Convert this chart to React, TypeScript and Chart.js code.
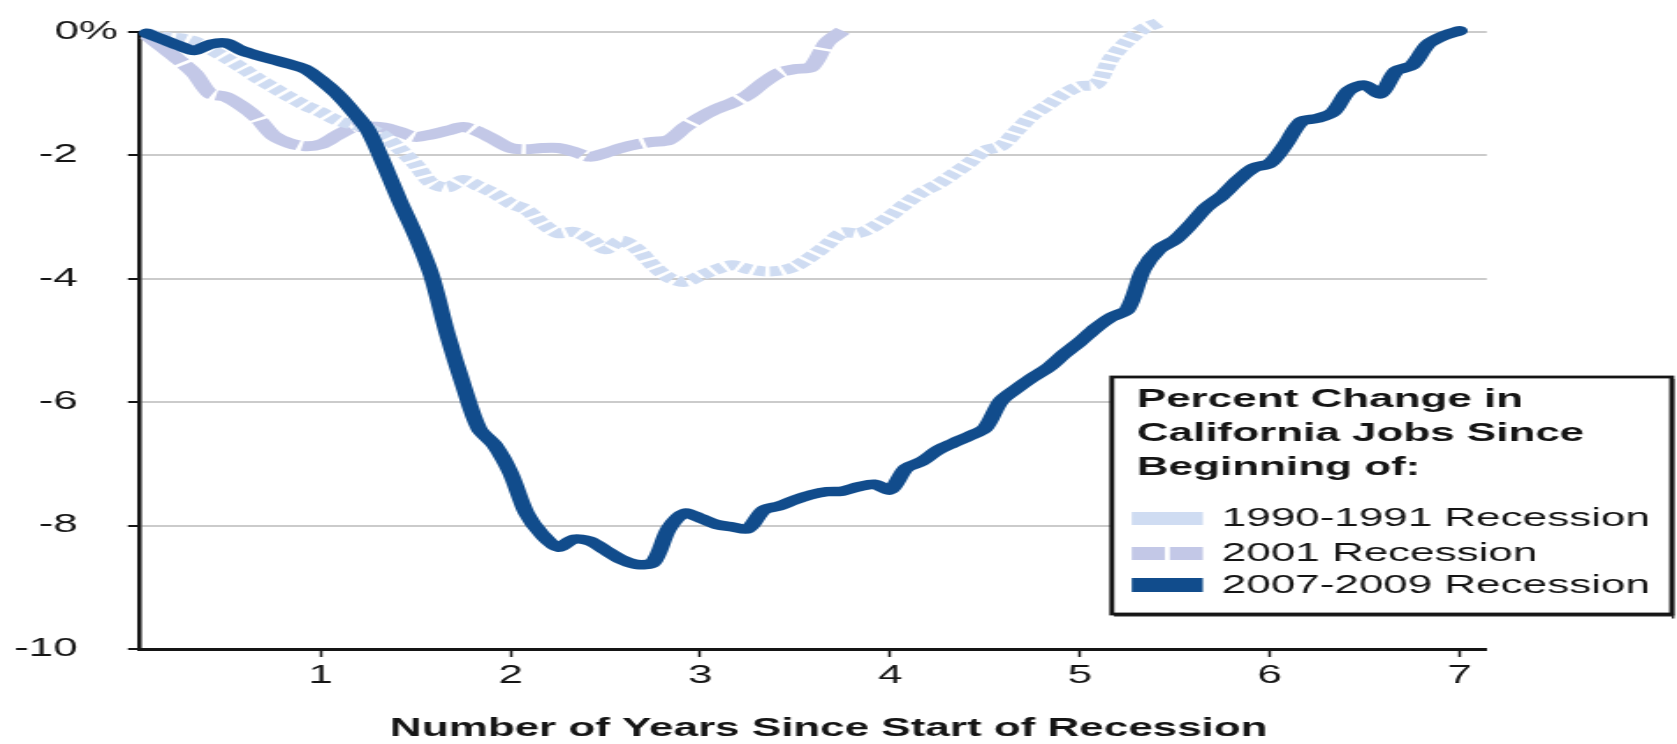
import React, { useEffect, useRef } from "react";
import { Chart, registerables } from "chart.js";

Chart.register(...registerables);

// The reference is a horizontally stretched picture: we draw at a narrower
// internal width and let CSS stretch the canvas to the page width.
const STRETCH = 1.76;
const PAGE_W = 1677;
const PAGE_H = 744;
const CANVAS_W = Math.round(PAGE_W / STRETCH);

const FONT = '"Liberation Sans", Arial, Helvetica, sans-serif';
const INK = "#151515";

const xTickValues = [1, 2, 3, 4, 5, 6, 7];
const yTickValues = [-10, -8, -6, -4, -2, 0];
const xTitle = "Number of Years Since Start of Recession";
const legendTitle = ["Percent Change in", "California Jobs Since", "Beginning of:"];
const seriesNames = ["1990-1991 Recession", "2001 Recession", "2007-2009 Recession"];
const seriesColors = ["#cfdcf2", "#c3c8e7", "#114c8c"];

// Percent change in California jobs, month 1, 2, 3 ... after start of recession
const jobs1990 = [
  -0.02, -0.08, -0.1, -0.15, -0.28, -0.42, -0.58, -0.75, -0.9, -1.05, -1.19, -1.3,
  -1.43, -1.5, -1.56, -1.69, -1.9, -2.15, -2.45, -2.52, -2.4, -2.5, -2.62, -2.78,
  -2.88, -3.1, -3.26, -3.24, -3.35, -3.52, -3.38, -3.52, -3.78, -3.98, -4.05, -3.95,
  -3.85, -3.78, -3.84, -3.88, -3.87, -3.8, -3.64, -3.45, -3.25, -3.26, -3.15, -2.98,
  -2.78, -2.6, -2.47, -2.3, -2.12, -1.92, -1.85, -1.6, -1.35, -1.18, -1.0, -0.88,
  -0.85, -0.42, -0.15, 0.05, 0.15,
];

const jobs2001 = [
  -0.05, -0.25, -0.45, -0.67, -1.0, -1.05, -1.2, -1.4, -1.68, -1.8, -1.85, -1.82,
  -1.68, -1.55, -1.53, -1.55, -1.62, -1.7, -1.66, -1.6, -1.54, -1.62, -1.75, -1.88,
  -1.9, -1.88, -1.88, -1.94, -2.02, -1.96, -1.88, -1.82, -1.78, -1.75, -1.55, -1.38,
  -1.25, -1.15, -1.02, -0.82, -0.66, -0.6, -0.57, -0.17, 0.02,
];

const jobs2007 = [
  -0.02, -0.12, -0.22, -0.3, -0.2, -0.18, -0.3, -0.38, -0.45, -0.52, -0.6, -0.78,
  -1.0, -1.28, -1.6, -2.15, -2.75, -3.3, -3.95, -4.9, -5.72, -6.43, -6.7, -7.15,
  -7.8, -8.15, -8.35, -8.22, -8.25, -8.4, -8.55, -8.63, -8.6, -8.05, -7.8, -7.88,
  -7.98, -8.02, -8.05, -7.75, -7.68, -7.58, -7.5, -7.45, -7.44, -7.37, -7.33, -7.42,
  -7.07, -6.96, -6.78, -6.66, -6.55, -6.42, -5.98, -5.78, -5.6, -5.44, -5.22, -5.02,
  -4.8, -4.62, -4.5, -3.85, -3.52, -3.37, -3.12, -2.84, -2.65, -2.4, -2.2, -2.13,
  -1.82, -1.45, -1.4, -1.3, -0.95, -0.86, -1.0, -0.63, -0.54, -0.2, -0.06, 0.02,
];

const toPoints = (vals: number[]) => vals.map((v, i) => ({ x: (i + 1) / 12, y: v }));

// page-pixel -> internal canvas x
const sx = (v: number) => v / STRETCH;

const legendPlugin = {
  id: "boxLegend",
  afterDraw(chart: any) {
    const ctx = chart.ctx as CanvasRenderingContext2D;
    ctx.save();
    const L = sx(1112), R = sx(1672), T = 377, B = 614;
    ctx.fillStyle = "#ffffff";
    ctx.fillRect(L, T, R - L, B - T);
    // slight drop shadow on right / bottom edges
    ctx.fillStyle = "#2a2a2a";
    ctx.fillRect(L + sx(2), B, R - L, 2.5);
    ctx.fillRect(R, T + 2, sx(2.5), B - T + 2.5);
    ctx.lineWidth = 2.8;
    ctx.strokeStyle = INK;
    ctx.strokeRect(L, T, R - L, B - T);

    ctx.fillStyle = INK;
    ctx.textAlign = "left";
    ctx.textBaseline = "alphabetic";
    ctx.font = `bold 25px ${FONT}`;
    legendTitle.forEach((t, i) => ctx.fillText(t, sx(1137), 407 + i * 34));

    // swatches
    const swL = sx(1132), swW = sx(71);
    ctx.fillStyle = seriesColors[0];
    ctx.fillRect(swL, 512, swW, 13);
    ctx.fillStyle = seriesColors[1];
    ctx.fillRect(swL, 547, sx(33), 13);
    ctx.fillRect(sx(1170), 547, sx(33), 13);
    ctx.fillStyle = seriesColors[2];
    ctx.fillRect(swL, 578, swW, 14);

    ctx.fillStyle = INK;
    ctx.font = `25px ${FONT}`;
    const baselines = [526, 561, 593];
    seriesNames.forEach((n, i) => ctx.fillText(n, sx(1222), baselines[i]));
    ctx.restore();
  },
};

export default function App() {
  const ref = useRef<HTMLCanvasElement | null>(null);

  useEffect(() => {
    if (!ref.current) return;
    const chart = new Chart(ref.current, {
      type: "line",
      data: {
        datasets: [
          {
            label: seriesNames[2],
            data: toPoints(jobs2007),
            borderColor: seriesColors[2],
            borderWidth: 9.5,
            borderJoinStyle: "round",
            borderCapStyle: "round",
            pointRadius: 0,
            tension: 0.3,
            clip: false,
            order: 0,
          },
          {
            label: seriesNames[1],
            data: toPoints(jobs2001),
            borderColor: seriesColors[1],
            borderWidth: 10,
            borderDash: [34, 2.5],
            borderJoinStyle: "round",
            borderCapStyle: "butt",
            pointRadius: 0,
            tension: 0.3,
            clip: false,
            order: 2,
          },
          {
            label: seriesNames[0],
            data: toPoints(jobs1990),
            borderColor: seriesColors[0],
            borderWidth: 10,
            borderDash: [6, 2.5],
            borderJoinStyle: "round",
            borderCapStyle: "butt",
            pointRadius: 0,
            tension: 0.3,
            clip: false,
            order: 1,
          },
        ],
      },
      options: {
        responsive: false,
        animation: false,
        devicePixelRatio: 1,
        layout: {
          padding: { left: 0, top: 32, right: CANVAS_W - sx(1487), bottom: 0 },
        },
        plugins: {
          legend: { display: false },
          tooltip: { enabled: false },
        },
        scales: {
          x: {
            type: "linear",
            min: 0.047,
            max: 7.144,
            afterBuildTicks: (s: any) => {
              s.ticks = xTickValues.map((v) => ({ value: v }));
            },
            afterFit: (s: any) => {
              s.height = PAGE_H - 649;
            },
            grid: {
              drawOnChartArea: false,
              drawTicks: true,
              tickLength: 8,
              tickColor: INK,
              tickWidth: 1.5,
            },
            border: { display: true, color: INK, width: 3 },
            ticks: {
              font: { family: FONT, size: 25 },
              color: INK,
              padding: 4,
              maxRotation: 0,
              autoSkip: false,
            },
            title: {
              display: true,
              text: "\u2002\u2009" + xTitle,
              font: { family: FONT, size: 25, weight: "bold" },
              color: INK,
              padding: { top: 0, bottom: 0 },
            },
          },
          y: {
            type: "linear",
            min: -10,
            max: 0,
            afterBuildTicks: (s: any) => {
              s.ticks = yTickValues.map((v) => ({ value: v }));
            },
            afterFit: (s: any) => {
              s.width = sx(140);
            },
            grid: {
              color: "#cbcbcb",
              lineWidth: 2,
              drawTicks: true,
              tickLength: 6.8,
              tickColor: INK,
              tickWidth: 2,
            },
            border: { display: true, color: INK, width: 2.5 },
            ticks: {
              font: { family: FONT, size: 25 },
              color: INK,
              padding: 5.7,
              autoSkip: false,
              callback: (v: any) =>
                Number(v) === 0 ? "0%" : String(v) + "\u2002\u2005\u2006",
            },
          },
        },
      },
      plugins: [legendPlugin],
    } as any);
    return () => chart.destroy();
  }, []);

  return (
    <div style={{ position: "absolute", left: 0, top: 0, width: PAGE_W, height: PAGE_H, background: "#fff" }}>
      <canvas
        ref={ref}
        width={CANVAS_W}
        height={PAGE_H}
        style={{ display: "block", width: `${PAGE_W}px`, height: `${PAGE_H}px` }}
      />
    </div>
  );
}
